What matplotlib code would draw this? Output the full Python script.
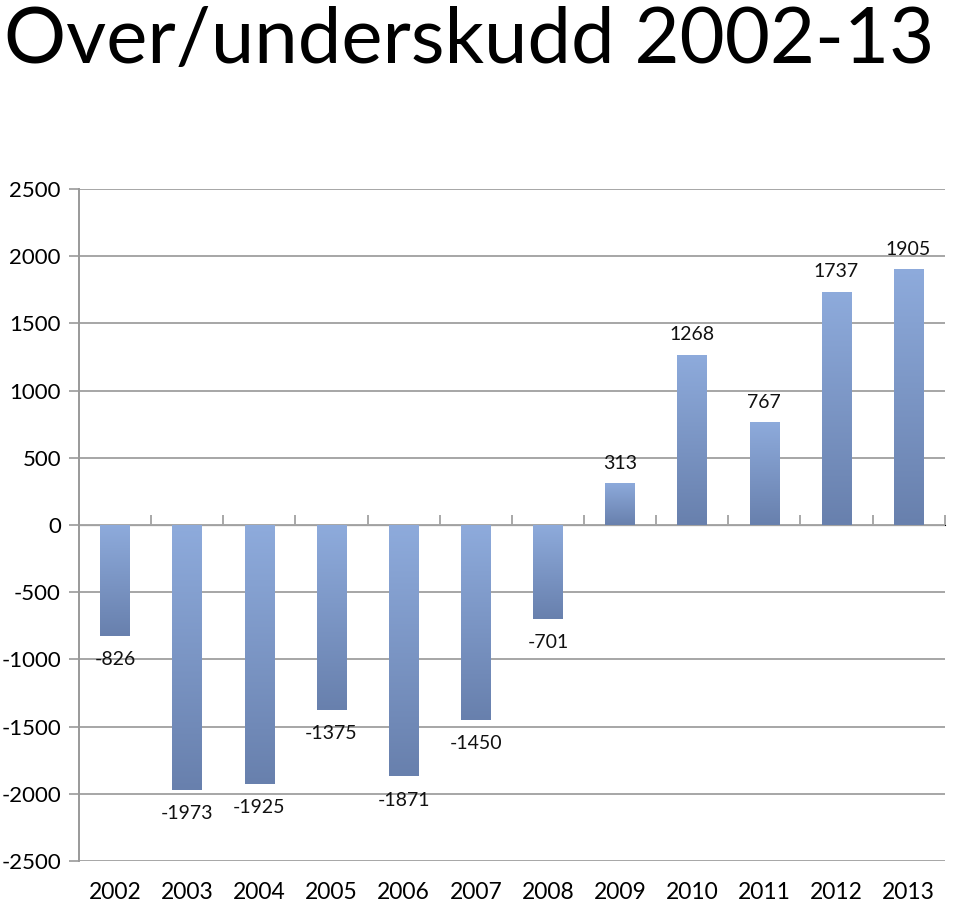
import matplotlib
matplotlib.use("Agg")
import matplotlib.pyplot as plt
import numpy as np
from matplotlib.colors import LinearSegmentedColormap

years = ["2002", "2003", "2004", "2005", "2006", "2007", "2008",
         "2009", "2010", "2011", "2012", "2013"]
values = [-826, -1973, -1925, -1375, -1871, -1450, -701,
          313, 1268, 767, 1737, 1905]
yticks = [-2500, -2000, -1500, -1000, -500, 0, 500, 1000, 1500, 2000, 2500]
title = "Over/underskudd 2002-13"

plt.rcParams['font.family'] = ['Lato', 'DejaVu Sans']

fig = plt.figure(figsize=(9.6, 9.05), dpi=100)
ax = fig.add_axes([0.0823, 0.0486, 0.9017, 0.7426])

x = np.arange(len(years))
bars = ax.bar(x, values, width=0.41, color='none', edgecolor='none', zorder=3)

cmap = LinearSegmentedColormap.from_list("g", ["#6880ad", "#8eabdc"])
grad = np.linspace(0, 1, 256).reshape(-1, 1)
for b in bars:
    x0, y0 = b.get_x(), b.get_y()
    w, h = b.get_width(), b.get_height()
    lo, hi = min(y0, y0 + h), max(y0, y0 + h)
    im = ax.imshow(grad, extent=[x0, x0 + w, lo, hi], origin='lower',
                   cmap=cmap, aspect='auto', zorder=3)
    im.set_clip_path(b)

for xi, v in zip(x, values):
    if v >= 0:
        ax.annotate(str(v), (xi, v), xytext=(0, 8), textcoords='offset points',
                    ha='center', va='bottom', fontsize=14, color='#111111')
    else:
        ax.annotate(str(v), (xi, v), xytext=(0, -11), textcoords='offset points',
                    ha='center', va='top', fontsize=14, color='#111111')

ax.set_xlim(-0.5, len(years) - 0.5)
ax.set_ylim(-2500, 2500)
ax.set_yticks(yticks)
ax.set_yticklabels([str(t) for t in yticks], fontsize=16)
ax.set_xticks(x)
ax.set_xticklabels(years, fontsize=16.5)
ax.tick_params(axis='x', length=0, pad=15)
ax.tick_params(axis='y', length=7, width=1.2, color='#999999', pad=6)
ax.grid(axis='y', color='#a6a6a6', linewidth=1.4, zorder=0)
ax.set_axisbelow(True)
for s in ['top', 'right', 'bottom']:
    ax.spines[s].set_visible(False)
ax.spines['left'].set_color('#999999')
ax.spines['left'].set_linewidth(1.4)

sec = ax.secondary_xaxis(0.5)
sec.set_xticks(np.arange(-0.5, len(years), 1.0))
sec.set_xticklabels([])
sec.tick_params(axis='x', direction='out', length=7, width=1.2, color='#999999')
sec.spines['bottom'].set_color('#999999')
sec.spines['bottom'].set_linewidth(1.4)

fig.text(0.004, 0.993, title, fontsize=56, ha='left', va='top', color='#000000')

fig.savefig("out.png", dpi=100)
